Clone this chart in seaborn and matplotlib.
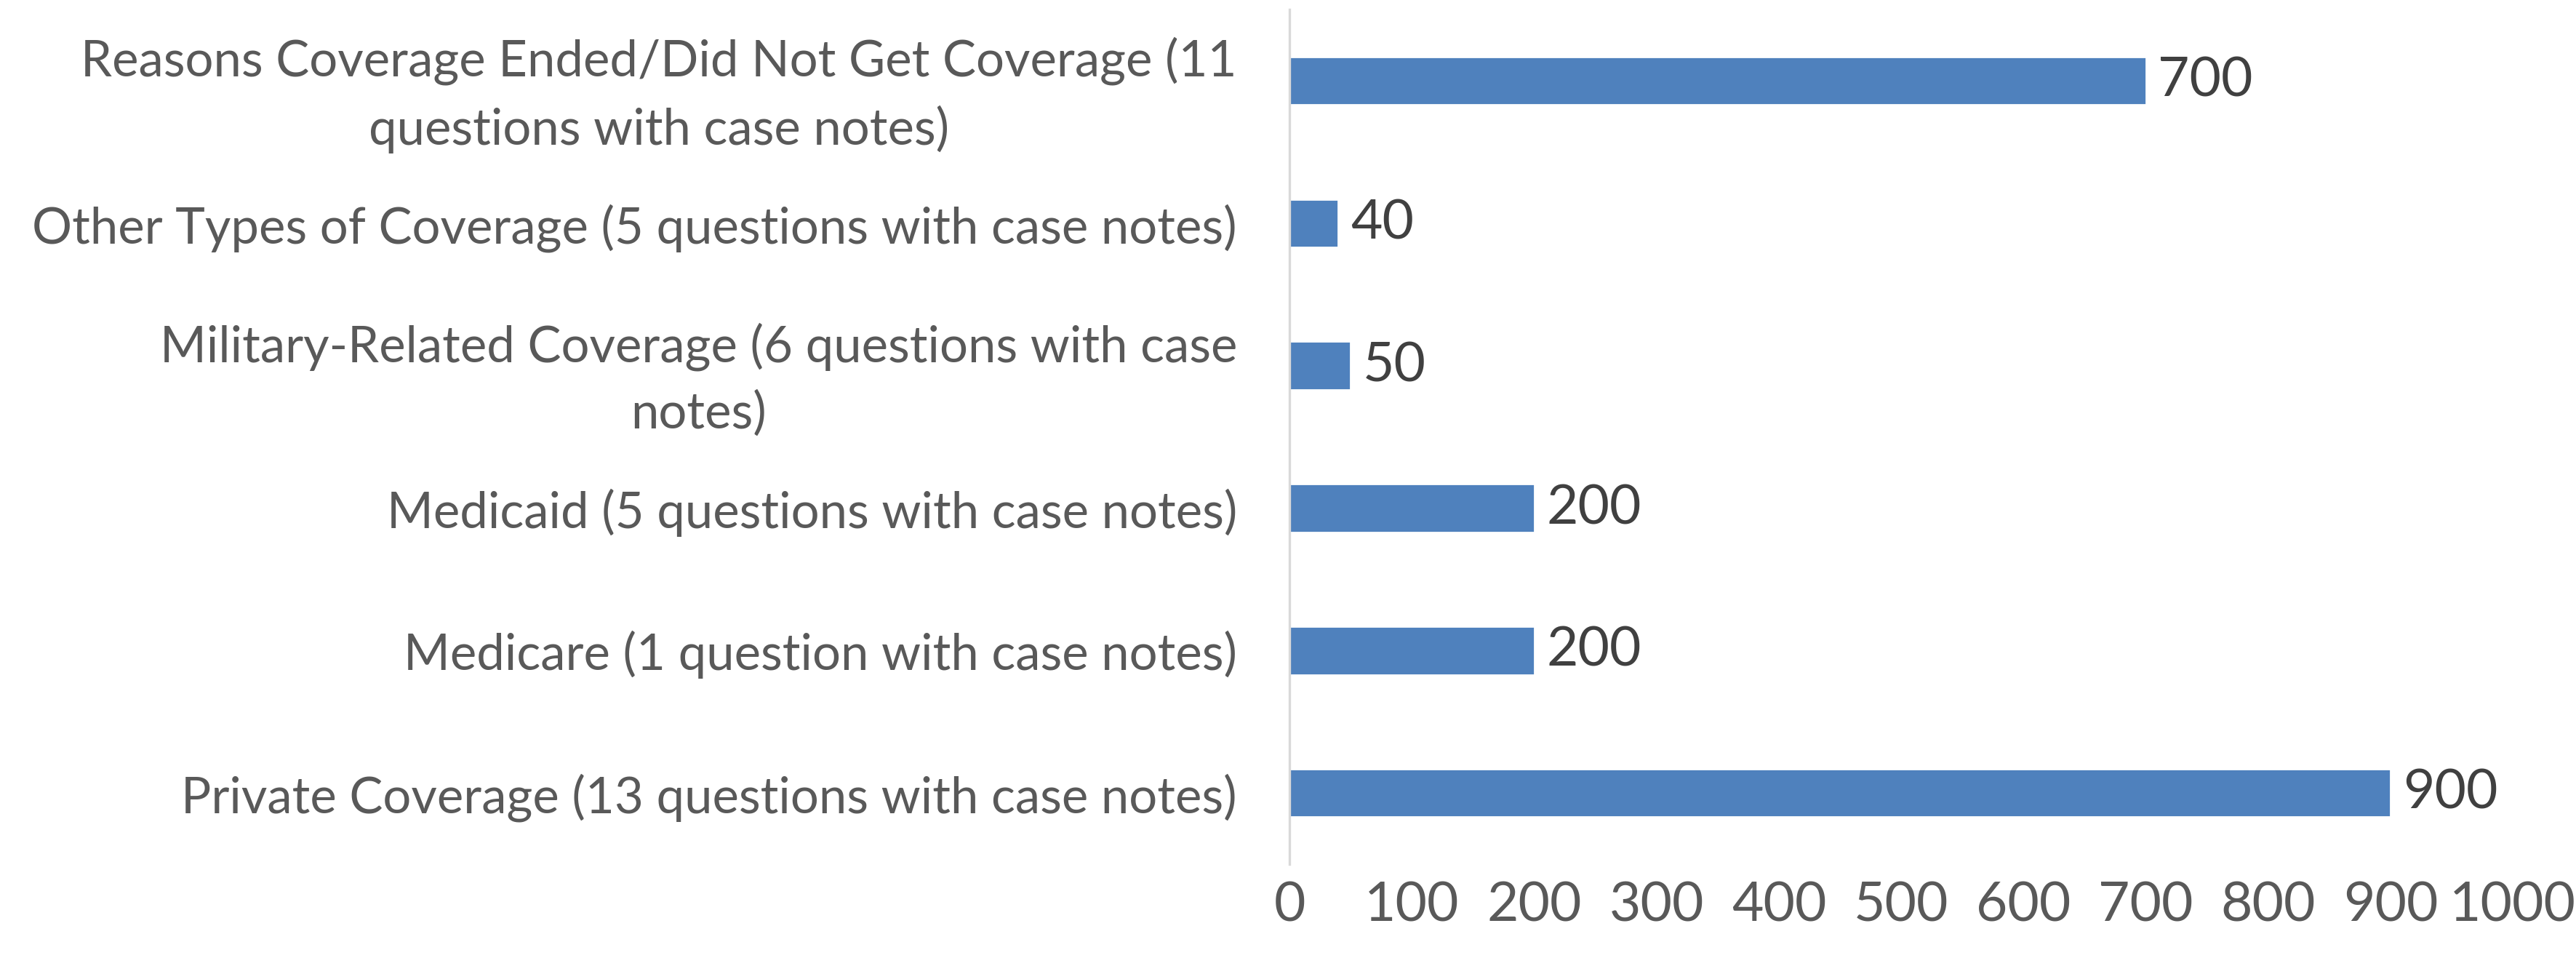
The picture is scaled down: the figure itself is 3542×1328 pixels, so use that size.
import matplotlib
matplotlib.use("Agg")
import matplotlib.pyplot as plt
import seaborn as sns
import pandas as pd

# Data (top to bottom as in the chart)
categories = [
    "Reasons Coverage Ended/Did Not Get Coverage (11\nquestions with case notes)",
    "Other Types of Coverage (5 questions with case notes)",
    "Military-Related Coverage (6 questions with case\nnotes)",
    "Medicaid (5 questions with case notes)",
    "Medicare (1 question with case notes)",
    "Private Coverage (13 questions with case notes)",
]
values = [700, 40, 50, 200, 200, 900]
x_ticks = [0, 100, 200, 300, 400, 500, 600, 700, 800, 900, 1000]

df = pd.DataFrame({"category": categories, "value": values})

sns.set_theme(style="white")
plt.rcParams["font.family"] = ["Lato", "DejaVu Sans"]

BAR_COLOR = "#4f81bd"
LABEL_COLOR = "#595959"
VALUE_COLOR = "#404040"

fig = plt.figure(figsize=(17.71, 6.64), dpi=200)
ax = fig.add_axes([0.5006, 0.1054, 0.4749, 0.8846])

sns.barplot(data=df, y="category", x="value", orient="h", color=BAR_COLOR,
            saturation=1, width=0.34, ax=ax)

ax.set_xlim(0, 1000)
ax.set_xticks(x_ticks)
ax.set_xticklabels([str(t) for t in x_ticks])
ax.set_xlabel("")
ax.set_ylabel("")

# Spines: only a light left axis line
for side in ["top", "right", "bottom"]:
    ax.spines[side].set_visible(False)
ax.spines["left"].set_color("#d9d9d9")
ax.spines["left"].set_linewidth(1.2)
ax.grid(False)

ax.tick_params(axis="y", length=0, pad=26, labelsize=24.8, labelcolor=LABEL_COLOR)
ax.tick_params(axis="x", length=0, pad=8, labelsize=27, labelcolor=LABEL_COLOR)
for lbl in ax.get_yticklabels():
    lbl.set_multialignment("center")
    lbl.set_linespacing(1.5)

ax.bar_label(ax.containers[0], labels=[str(v) for v in values], padding=6,
             fontsize=27, color=VALUE_COLOR)

fig.savefig("out.png", dpi=200, facecolor="white")
